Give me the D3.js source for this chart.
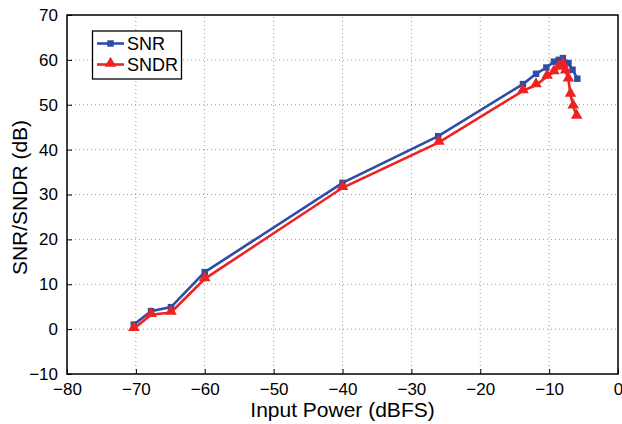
<!DOCTYPE html>
<html>
<head>
<meta charset="utf-8">
<script src="https://cdn.jsdelivr.net/npm/d3@7"></script>
<style>
  body { margin: 0; background: #fff; }
  text { font-family: "Liberation Sans", Arial, sans-serif; fill: #000; }
</style>
</head>
<body>
<div class="grafico"></div>
<script>
const width = 622, height = 424;
const margin = { top: 15, right: 4, bottom: 50, left: 67 };

// data
const snrX  = [-70.3, -67.8, -64.9, -60, -40, -26.1, -13.8, -11.9, -10.4, -9.3, -8.6, -8.0, -7.2, -6.6, -5.9];
const snrY  = [1.0, 4.0, 4.9, 12.7, 32.6, 43.0, 54.6, 56.9, 58.3, 59.6, 60.0, 60.4, 59.3, 57.8, 55.8];
const sndrX = [-70.3, -67.8, -64.9, -60, -40, -26, -13.8, -11.9, -10.3, -9.3, -8.6, -8.0, -7.6, -7.2, -6.9, -6.5, -6.0];
const sndrY = [0.1, 3.2, 3.7, 11.2, 31.5, 41.6, 53.1, 54.4, 56.3, 57.3, 58.3, 59.0, 57.5, 55.7, 52.3, 49.7, 47.4];
const xTicks = [-80, -70, -60, -50, -40, -30, -20, -10, 0];
const yTicks = [-10, 0, 10, 20, 30, 40, 50, 60, 70];
const seriesNames = ["SNR", "SNDR"];
const seriesColors = ["#2d4ea6", "#ee2222"];

const svg = d3.select(".grafico")
    .append("svg")
    .attr("width", width)
    .attr("height", height);

const x = d3.scaleLinear().domain([-80, 0]).range([margin.left, width - margin.right]);
const y = d3.scaleLinear().domain([-10, 70]).range([height - margin.bottom, margin.top]);

const fmt = d => d < 0 ? "\u2212" + Math.abs(d) : "" + d;

// grid
svg.append("g").selectAll("line.gx")
    .data(xTicks.slice(1, -1))
    .join("line")
    .attr("x1", d => x(d)).attr("x2", d => x(d))
    .attr("y1", y(-10)).attr("y2", y(70))
    .attr("stroke", "#999").attr("stroke-width", 1).attr("stroke-dasharray", "1,3");
svg.append("g").selectAll("line.gy")
    .data(yTicks.slice(1, -1))
    .join("line")
    .attr("x1", x(-80)).attr("x2", x(0))
    .attr("y1", d => y(d)).attr("y2", d => y(d))
    .attr("stroke", "#999").attr("stroke-width", 1).attr("stroke-dasharray", "1,3");

// axes (ticks inward)
const xAxis = svg.append("g")
    .attr("transform", `translate(0,${y(-10)})`)
    .call(d3.axisBottom(x).tickValues(xTicks).tickFormat(fmt).tickSizeInner(-5).tickSizeOuter(0).tickPadding(9));
const yAxis = svg.append("g")
    .attr("transform", `translate(${x(-80)},0)`)
    .call(d3.axisLeft(y).tickValues(yTicks).tickFormat(fmt).tickSizeInner(-5).tickSizeOuter(0).tickPadding(9));
[xAxis, yAxis].forEach(a => {
    a.select(".domain").remove();
    a.selectAll("text").attr("font-size", 17).attr("font-family", "Liberation Sans, Arial, sans-serif");
    a.selectAll("line").attr("stroke", "#000");
});
xAxis.selectAll("text").attr("dy", "0.71em");

// box
svg.append("rect")
    .attr("x", x(-80)).attr("y", y(70))
    .attr("width", x(0) - x(-80)).attr("height", y(-10) - y(70))
    .attr("fill", "none").attr("stroke", "#000").attr("stroke-width", 1.5);

// axis titles
svg.append("text")
    .attr("x", (x(-80) + x(0)) / 2).attr("y", 417)
    .attr("text-anchor", "middle").attr("font-size", 21)
    .text("Input Power (dBFS)");
svg.append("text")
    .attr("transform", `translate(27,${(y(-10) + y(70)) / 2 + 3}) rotate(-90)`)
    .attr("text-anchor", "middle").attr("font-size", 21)
    .text("SNR/SNDR (dB)");

const line = d3.line().x(d => x(d[0])).y(d => y(d[1]));
const snr = d3.zip(snrX, snrY);
const sndr = d3.zip(sndrX, sndrY);

const sq = d3.symbol().type(d3.symbolSquare).size(42);
const tri = d3.symbol().type(d3.symbolTriangle).size(58);

// SNR
svg.append("path").datum(snr)
    .attr("d", line).attr("fill", "none")
    .attr("stroke", seriesColors[0]).attr("stroke-width", 2.6);
svg.append("g").selectAll("path")
    .data(snr).join("path")
    .attr("d", sq)
    .attr("transform", d => `translate(${x(d[0])},${y(d[1])})`)
    .attr("fill", seriesColors[0]);

// SNDR
svg.append("path").datum(sndr)
    .attr("d", line).attr("fill", "none")
    .attr("stroke", seriesColors[1]).attr("stroke-width", 2.6);
svg.append("g").selectAll("path")
    .data(sndr).join("path")
    .attr("d", tri)
    .attr("transform", d => `translate(${x(d[0])},${y(d[1]) - 1})`)
    .attr("fill", seriesColors[1]);

// legend
const lg = svg.append("g");
lg.append("rect")
    .attr("x", 92.5).attr("y", 31).attr("width", 89).attr("height", 48)
    .attr("fill", "#fff").attr("stroke", "#000").attr("stroke-width", 1.3);
seriesNames.forEach((name, i) => {
    const ly = 43.5 + i * 21;
    lg.append("line")
        .attr("x1", 97).attr("x2", 124).attr("y1", ly).attr("y2", ly)
        .attr("stroke", seriesColors[i]).attr("stroke-width", 2.6);
    lg.append("path")
        .attr("d", i === 0 ? sq : tri)
        .attr("transform", `translate(110.5,${ly - (i === 0 ? 0 : 1)})`)
        .attr("fill", seriesColors[i]);
    lg.append("text")
        .attr("x", 127).attr("y", ly + 6.5)
        .attr("font-size", 18)
        .text(name);
});
</script>
</body>
</html>
